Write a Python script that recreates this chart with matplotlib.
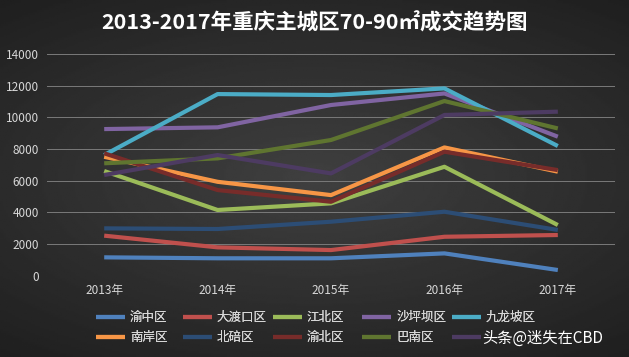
import numpy as np
import matplotlib
matplotlib.use("Agg")
import matplotlib.pyplot as plt

plt.rcParams['font.family'] = ['Noto Sans CJK SC', 'DejaVu Sans']

years = ["2013年", "2014年", "2015年", "2016年", "2017年"]
# last label is hidden under the watermark in the source picture
districts = ["渝中区", "大渡口区", "江北区", "沙坪坝区", "九龙坡区",
             "南岸区", "北碚区", "渝北区", "巴南区", ""]

yuzhong = [1160, 1100, 1100, 1410, 360]
dadukou = [2530, 1790, 1620, 2460, 2570]
jiangbei = [6610, 4150, 4570, 6880, 3200]
shapingba = [9260, 9370, 10780, 11510, 8780]
jiulongpo = [7620, 11470, 11410, 11830, 8190]
nanan = [7510, 5930, 5090, 8100, 6570]
beibei = [2990, 2950, 3410, 4040, 2890]
yubei = [7730, 5410, 4670, 7830, 6670]
banan = [7100, 7410, 8570, 11030, 9300]
liangjiang = [6360, 7620, 6460, 10150, 10360]

series = [yuzhong, dadukou, jiangbei, shapingba, jiulongpo,
          nanan, beibei, yubei, banan, liangjiang]
colors = ["#4f81bd", "#c0504d", "#9bbb59", "#8064a2", "#4bacc6",
          "#f79646", "#2c4d75", "#772c2a", "#5f7530", "#4d3b62"]

fig = plt.figure(figsize=(6.29, 3.57), dpi=100)

# dark radial background
bg = fig.add_axes([0, 0, 1, 1])
yy, xx = np.mgrid[-1:1:200j, -1:1:350j]
r = np.sqrt((xx * 0.9) ** 2 + (yy * 1.1) ** 2)
bg.imshow(0.25 - 0.09 * r, cmap="gray", vmin=0, vmax=1, aspect="auto",
          extent=[0, 1, 0, 1])
bg.axis("off")

ax = fig.add_axes([0.0755, 0.2277, 0.9015, 0.621])
ax.patch.set_alpha(0)
x = np.arange(len(years))
lines = []
for vals, c, name in zip(series, colors, districts):
    ln, = ax.plot(x, vals, color=c, lw=3, label=name, solid_capstyle="butt")
    lines.append(ln)

ax.set_xlim(-0.5, 4.5)
ax.set_ylim(0, 14000)
ax.set_yticks(range(0, 14001, 2000))
ax.set_xticks(x)
ax.set_xticklabels(years)
ax.grid(axis="y", color="#7a7a7a", lw=0.7)
ax.set_axisbelow(True)
for s in ax.spines.values():
    s.set_visible(False)
ax.tick_params(length=0, colors="#d8d8d8", labelsize=8.5)
ax.tick_params(axis="y", pad=6)
ax.tick_params(axis="x", pad=6)

fig.text(0.5, 0.935, "2013-2017年重庆主城区70-90㎡成交趋势图", ha="center",
         va="center", color="white", fontsize=15.5, fontweight="bold")

# legend: 5 evenly spaced columns, row-wise order like Excel
col_x = [0.153, 0.291, 0.434, 0.576, 0.719]
for i, cx in enumerate(col_x):
    hs = [lines[i], lines[i + 5]]
    lg = fig.legend(hs, [districts[i], districts[i + 5]], loc="upper left",
                    bbox_to_anchor=(cx, 0.128), frameon=False, fontsize=9,
                    handlelength=2.3, handletextpad=0.4, labelspacing=0.55,
                    borderaxespad=0, borderpad=0)
    for t in lg.get_texts():
        t.set_color("#d8d8d8")
    for h in lg.get_lines():
        h.set_linewidth(3)
    fig.add_artist(lg)

fig.text(0.766, 0.053, "头条@迷失在CBD", ha="left", va="center",
         color="white", fontsize=11)

fig.savefig("out.png", dpi=100)
